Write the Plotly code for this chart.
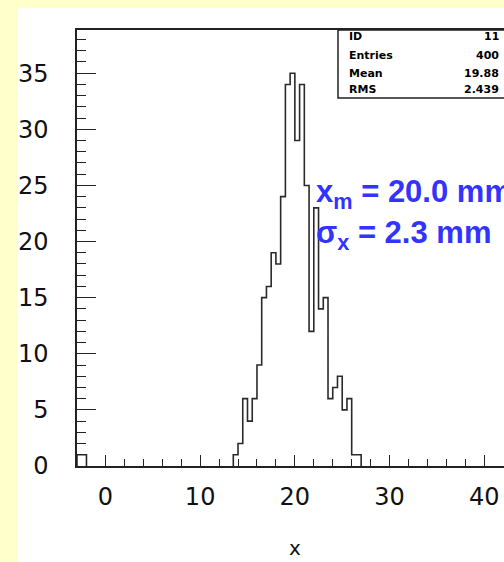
import plotly.graph_objects as go

# ---- data ----
bin_width = 0.5
main_low_edge = 13.5
main_counts = [1, 2, 6, 4, 6, 9, 15, 16, 19, 18, 24, 34, 35, 29, 34, 25,
               12, 23, 14, 15, 6, 7, 8, 5, 6, 1, 1]
low_low_edge = -3.0
low_counts = [1, 1]

x_ticks = [0, 10, 20, 30, 40]
y_ticks = [0, 5, 10, 15, 20, 25, 30, 35]

stat_names = ["ID", "Entries", "Mean", "RMS"]
stat_values = ["11", "400", "19.88", "2.439"]

# ---- geometry helpers ----
W, H = 504, 562
L, T, B = 77, 30, 466
R = W
pw, ph = R - L, B - T


def px_x(p):
    return (p - L) / pw


def px_y(p):
    return (B - p) / ph


def step_xy(lo, counts, w):
    xs, ys = [lo], [0]
    for i, c in enumerate(counts):
        xs += [lo + i * w, lo + (i + 1) * w]
        ys += [c, c]
    xs.append(lo + len(counts) * w)
    ys.append(0)
    return xs, ys


fig = go.Figure()
for lo, cts in [(low_low_edge, low_counts), (main_low_edge, main_counts)]:
    xs, ys = step_xy(lo, cts, bin_width)
    fig.add_trace(go.Scatter(x=xs, y=ys, mode="lines",
                             line=dict(color="#2a2a2a", width=1.6),
                             hoverinfo="skip", showlegend=False, cliponaxis=False))

tick_font = dict(family="DejaVu Sans", size=24, color="#111")

fig.update_layout(
    width=W, height=H,
    margin=dict(l=L, r=0, t=T, b=H - B, pad=0),
    paper_bgcolor="#ffffcc",
    plot_bgcolor="white",
    showlegend=False,
    xaxis=dict(range=[-3, 42.08], showgrid=False, zeroline=False,
               showline=True, linecolor="#222", linewidth=1.5, mirror=True,
               tickmode="array", tickvals=x_ticks, ticktext=[str(v) for v in x_ticks],
               ticks="inside", ticklen=11, tickwidth=1.4, tickcolor="#222",
               minor=dict(ticks="inside", ticklen=7, dtick=2, tick0=0,
                          tickwidth=1.4, tickcolor="#222", showgrid=False),
               tickfont=tick_font, ticklabelstandoff=8),
    yaxis=dict(range=[0, 38.85], showgrid=False, zeroline=False,
               showline=True, linecolor="#222", linewidth=1.5, mirror=False,
               tickmode="array", tickvals=y_ticks, ticktext=[str(v) for v in y_ticks],
               ticks="inside", ticklen=19, tickwidth=1.4, tickcolor="#222",
               minor=dict(ticks="inside", ticklen=9, dtick=1, tick0=0,
                          tickwidth=1.4, tickcolor="#222", showgrid=False),
               tickfont=tick_font, ticklabelstandoff=22),
)

shapes = [
    # white slide region
    dict(type="rect", xref="paper", yref="paper", layer="below",
         x0=px_x(18), x1=px_x(520), y0=px_y(580), y1=px_y(8),
         fillcolor="white", line=dict(width=0)),
    # stats box
    dict(type="rect", xref="paper", yref="paper", layer="above",
         x0=px_x(338), x1=px_x(530), y0=px_y(98), y1=px_y(30),
         fillcolor="white", line=dict(color="#222", width=1.5)),
]
fig.update_layout(shapes=shapes)

annotations = []
row_y = [37, 55, 73, 90]
for name, val, yy in zip(stat_names, stat_values, row_y):
    annotations.append(dict(xref="paper", yref="paper", x=px_x(347), y=px_y(yy),
                            text=name, showarrow=False, xanchor="left", yanchor="middle",
                            font=dict(family="DejaVu Sans", size=11, color="black", weight="bold")))
    annotations.append(dict(xref="paper", yref="paper", x=px_x(501), y=px_y(yy),
                            text=val, showarrow=False, xanchor="right", yanchor="middle",
                            font=dict(family="DejaVu Sans", size=11, color="black", weight="bold")))

blue_font = dict(family="Liberation Sans", size=31, color="#3333ff", weight="bold")
annotations.append(dict(xref="paper", yref="paper", x=px_x(314), y=px_y(194),
                        text="x<sub>m</sub> = 20.0 mm", showarrow=False,
                        xanchor="left", yanchor="middle", font=blue_font))
annotations.append(dict(xref="paper", yref="paper", x=px_x(314), y=px_y(235),
                        text="σ<sub>x</sub> = 2.3 mm", showarrow=False,
                        xanchor="left", yanchor="middle", font=blue_font))
annotations.append(dict(xref="x", yref="paper", x=20, y=px_y(548),
                        text="x", showarrow=False, xanchor="center", yanchor="middle",
                        font=dict(family="DejaVu Sans", size=20, color="#111")))
fig.update_layout(annotations=annotations)

fig.write_html("out.html")
